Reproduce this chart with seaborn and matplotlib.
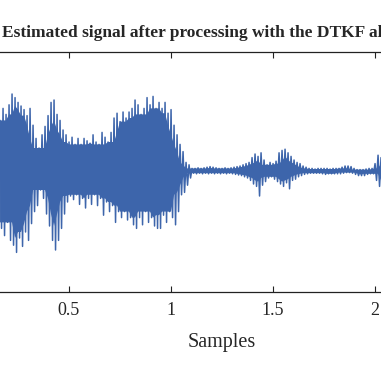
import numpy as np
import pandas as pd
import matplotlib
matplotlib.use("Agg")
import matplotlib.pyplot as plt
import seaborn as sns

# visible part of the estimated signal, samples in units of 10^4
sample_start = 0.162
sample_end = 2.037

# positive peaks, one every ~0.0147 x 10^4 samples
upper_peaks = [
    0.43, 0.53, 0.48, 0.56, 0.65, 0.62, 0.58, 0.55, 0.52, 0.47,
    0.53, 0.39, 0.28, 0.20, 0.31, 0.38, 0.47, 0.58, 0.60, 0.48,
    0.43, 0.35, 0.31, 0.25, 0.29, 0.23, 0.28, 0.23, 0.28, 0.26,
    0.24, 0.31, 0.25, 0.23, 0.33, 0.29, 0.25, 0.33, 0.45, 0.49,
    0.42, 0.50, 0.45, 0.50, 0.53, 0.60, 0.56, 0.48, 0.53, 0.62,
    0.56, 0.63, 0.53, 0.58, 0.53, 0.58, 0.49, 0.52, 0.39, 0.31,
    0.23, 0.17, 0.08, 0.06,
    0.03, 0.03, 0.035, 0.03, 0.035, 0.04, 0.045, 0.04, 0.035, 0.03,
    0.03, 0.035, 0.03, 0.035, 0.04, 0.045,
    0.05, 0.06, 0.07, 0.08, 0.12, 0.15, 0.13, 0.16, 0.10, 0.06,
    0.08, 0.07, 0.09, 0.16, 0.18, 0.19, 0.16, 0.13, 0.10, 0.08,
    0.07, 0.05, 0.04,
    0.03, 0.03, 0.025, 0.03, 0.03, 0.03, 0.03, 0.025, 0.03, 0.03,
    0.03, 0.04, 0.05, 0.05, 0.045, 0.03, 0.02, 0.02, 0.02, 0.025,
    0.03, 0.03, 0.07, 0.14, 0.12,
]

# negative peaks, between the positive ones
lower_peaks = [
    -0.47, -0.53, -0.42, -0.57, -0.61, -0.67, -0.55, -0.62, -0.50, -0.57,
    -0.43, -0.33, -0.28, -0.15, -0.22, -0.35, -0.45, -0.57, -0.65, -0.57,
    -0.47, -0.35, -0.25, -0.20, -0.23, -0.19, -0.27, -0.22, -0.30, -0.22,
    -0.27, -0.19, -0.28, -0.22, -0.36, -0.25, -0.33, -0.28, -0.42, -0.33,
    -0.38, -0.33, -0.40, -0.38, -0.44, -0.47, -0.38, -0.44, -0.33, -0.42,
    -0.38, -0.45, -0.47, -0.47, -0.36, -0.42, -0.33, -0.38, -0.44, -0.33,
    -0.19, -0.17, -0.11, -0.05,
    -0.01, -0.015, -0.01, -0.015, -0.01, -0.015, -0.01, -0.015, -0.01, -0.015,
    -0.01, -0.015, -0.01, -0.015, -0.02, -0.025,
    -0.03, -0.04, -0.05, -0.07, -0.10, -0.12, -0.20, -0.11, -0.08, -0.05,
    -0.04, -0.06, -0.08, -0.10, -0.12, -0.09, -0.14, -0.07, -0.06, -0.04,
    -0.03, -0.02, -0.015,
    -0.01, -0.01, -0.01, -0.01, -0.015, -0.02, -0.015, -0.015, -0.015, -0.015,
    -0.015, -0.01, -0.005, -0.005, -0.01, -0.02, -0.03, -0.03, -0.03, -0.02,
    -0.015, -0.015, -0.07, -0.12, -0.10,
]

x_ticks = [0, 0.5, 1, 1.5, 2, 2.5]
x_tick_labels = ['0', '0.5', '1', '1.5', '2', '2.5']
y_ticks = [-1, -0.5, 0, 0.5, 1]
line_color = '#3d65ab'

signal = np.empty(2 * len(upper_peaks))
signal[0::2] = upper_peaks
signal[1::2] = lower_peaks
samples = np.linspace(sample_start, sample_end, len(signal))
df = pd.DataFrame({'Samples': samples, 'Amplitude': signal})

# dense core of the oscillation: the smallest of the nearby peaks
up = np.pad(np.array(upper_peaks), 2, mode='edge')
lo = np.pad(np.array(lower_peaks), 2, mode='edge')
n = len(upper_peaks)
core_up = np.minimum.reduce([up[k:k + n] for k in range(5)])
core_lo = np.maximum.reduce([lo[k:k + n] for k in range(5)])

sns.set_style('ticks')
plt.rcParams['font.family'] = ['Liberation Serif', 'DejaVu Serif']

fig = plt.figure(figsize=(3.81, 3.81), dpi=100)
# the axes box runs past the left and right edges of the picture
ax = fig.add_axes([-33 / 381, 89 / 381, 510 / 381, 240 / 381])

ax.fill_between(samples[0::2], core_up, core_lo, color=line_color,
                linewidth=0)
sns.lineplot(data=df, x='Samples', y='Amplitude', ax=ax, sort=False,
             estimator=None, color=line_color, linewidth=1.1)

ax.set_xlim(0, 2.5)
ax.set_ylim(-1, 1)
ax.set_xticks(x_ticks)
ax.set_xticklabels(x_tick_labels)
ax.set_yticks(y_ticks)
ax.tick_params(direction='in', top=True, right=True, length=4.3,
               width=0.8, labelsize=13, pad=7, color='#222222')
for spine in ax.spines.values():
    spine.set_linewidth(0.9)
    spine.set_color('#222222')

ax.set_xlabel('Samples', fontsize=14.5, labelpad=10)
ax.set_ylabel('Amplitude')
ax.set_title('Estimated signal after processing with the DTKF algorithm',
             fontsize=12.5, fontweight='bold', pad=10.8)

fig.savefig('out.png', dpi=100)
